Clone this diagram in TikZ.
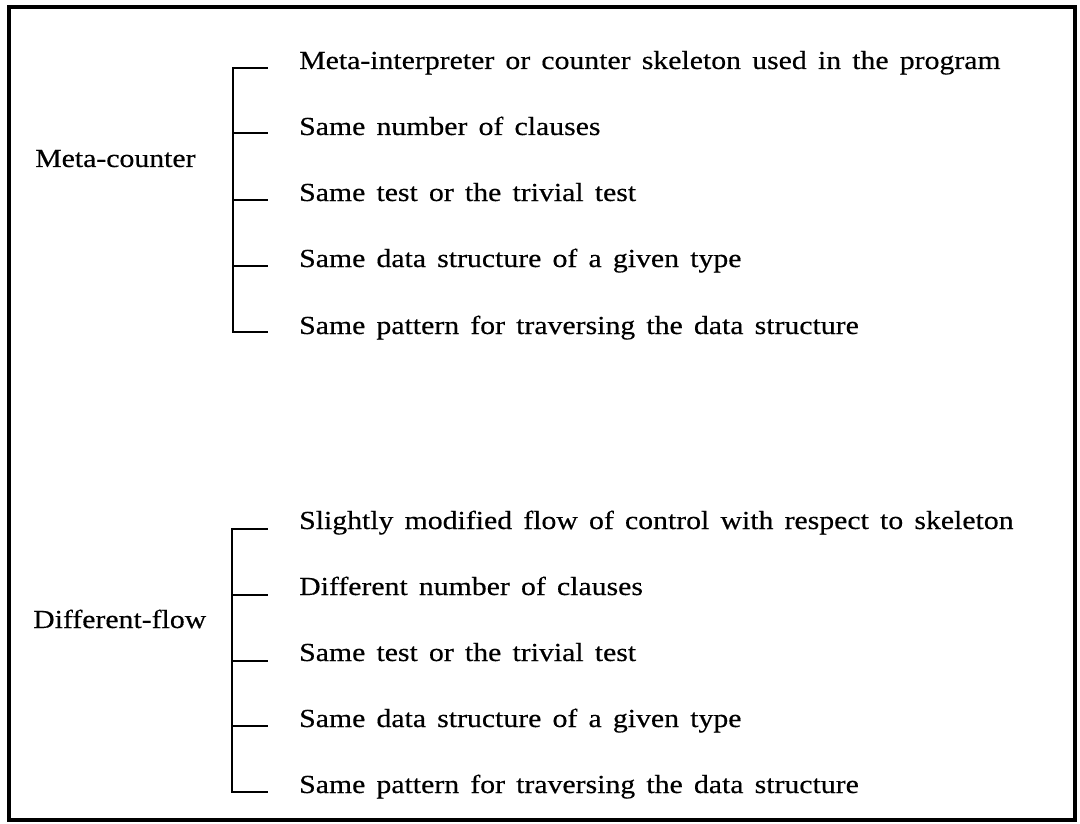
\documentclass[tikz,border=0pt]{standalone}
\usepackage{fontspec}
\setmainfont[WordSpace=1.5,FakeStretch=1.145,FakeBold=0.4]{Liberation Serif}
\begin{document}
\begin{tikzpicture}[x=1pt,y=-1pt,
  item/.style={anchor=base west,inner sep=0pt,font=\fontsize{26}{30}\selectfont},
  head/.style={anchor=base west,inner sep=0pt,font=\fontsize{26}{30}\selectfont},
  tree/.style={line width=1.8pt,line cap=rect},
  frame/.style={line width=3.5pt}]
\useasboundingbox (0,0) rectangle (1080,824);
\draw[frame] (9,7) rectangle (1075,820);
% first group
\node[head] (h1) at (35,167) {Meta-counter};
\coordinate (t1) at (233,68);
\coordinate (b1) at (233,332);
\node[item] (a1) at (299,69) {Meta-interpreter or counter skeleton used in the program};
\node[item] (a2) at (299,135) {Same number of clauses};
\node[item] (a3) at (299,201) {Same test or the trivial test};
\node[item] (a4) at (299,267) {Same data structure of a given type};
\node[item] (a5) at (299,334) {Same pattern for traversing the data structure};
\coordinate (e1) at (267,68);
\coordinate (e2) at (267,133);
\coordinate (e3) at (267,200);
\coordinate (e4) at (267,266);
\coordinate (e5) at (267,332);
\draw[tree] (e1) -- (t1) -- (b1) -- (e5);
\draw[tree] (e2) -- (e2 -| t1);
\draw[tree] (e3) -- (e3 -| t1);
\draw[tree] (e4) -- (e4 -| t1);
% second group
\node[head] (h2) at (33,628) {Different-flow};
\coordinate (t2) at (232,529);
\coordinate (b2) at (232,792);
\node[item] (c1) at (299,529) {Slightly modified flow of control with respect to skeleton};
\node[item] (c2) at (299,595) {Different number of clauses};
\node[item] (c3) at (299,661) {Same test or the trivial test};
\node[item] (c4) at (299,727) {Same data structure of a given type};
\node[item] (c5) at (299,793) {Same pattern for traversing the data structure};
\coordinate (f1) at (267,529);
\coordinate (f2) at (267,595);
\coordinate (f3) at (267,661);
\coordinate (f4) at (267,726);
\coordinate (f5) at (267,792);
\draw[tree] (f1) -- (t2) -- (b2) -- (f5);
\draw[tree] (f2) -- (f2 -| t2);
\draw[tree] (f3) -- (f3 -| t2);
\draw[tree] (f4) -- (f4 -| t2);
\end{tikzpicture}
\end{document}
